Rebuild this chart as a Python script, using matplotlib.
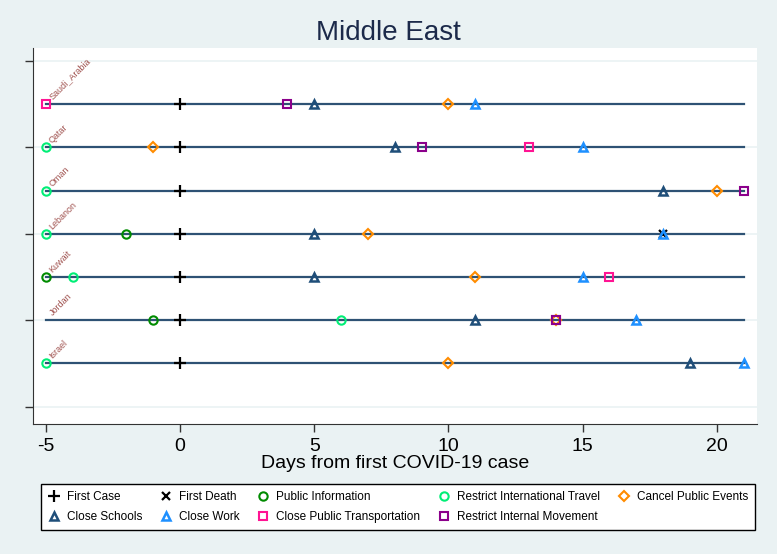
import numpy as np
import matplotlib.pyplot as plt
import matplotlib as mpl

mpl.rcParams['font.family'] = ['Liberation Sans Narrow', 'Liberation Sans', 'DejaVu Sans']

# rows from bottom to top
countries = ['Israel', 'Jordan', 'Kuwait', 'Lebanon', 'Oman', 'Qatar', 'Saudi_Arabia']
line_start = [-5, -5, -5, -5, -5, -5, -5]
line_end = [21, 21, 21, 21, 21, 21, 21]

first_case = [0, 0, 0, 0, 0, 0, 0]
first_death = [None, None, None, 18, None, None, None]
public_info = [None, -1, -5, -2, None, None, None]
intl_travel = [-5, 6, -4, -5, -5, -5, None]
cancel_events = [10, 14, 11, 7, 20, -1, 10]
close_schools = [19, 11, 5, 5, 18, 8, 5]
close_work = [21, 17, 15, 18, None, 15, 11]
close_transport = [None, 14, 16, None, None, 13, -5]
internal_movement = [None, 14, None, None, 21, 9, 4]

xticks = [-5, 0, 5, 10, 15, 20]
yticks = [0, 2, 4, 6, 8]

bg = '#eaf2f3'
fig = plt.figure(figsize=(7.77, 5.54), dpi=100, facecolor=bg)
W, H = 777, 554
ax = fig.add_axes([33 / W, 1 - 424 / H, (757 - 33) / W, (424 - 48) / H])
ax.set_facecolor('white')

for i in range(len(countries)):
    ax.plot([line_start[i], line_end[i]], [i + 1, i + 1], color='#2e5274', lw=1.6, zorder=2)
    ax.text(line_start[i] + 0.3, i + 1.06, countries[i], rotation=45, fontsize=6.5,
            color='#a0524f', ha='left', va='bottom', rotation_mode='anchor', zorder=5)

series = [
    ('First Case', first_case, dict(marker='+', color='black', ms=9, mew=1.6)),
    ('First Death', first_death, dict(marker='x', color='black', ms=6, mew=1.6)),
    ('Public Information', public_info, dict(marker='o', mfc='none', mec='#008b00', ms=6, mew=1.5)),
    ('Restrict International Travel', intl_travel, dict(marker='o', mfc='none', mec='#00ee76', ms=6, mew=1.5)),
    ('Cancel Public Events', cancel_events, dict(marker='D', mfc='none', mec='#ff8c00', ms=5, mew=1.5)),
    ('Close Schools', close_schools, dict(marker='^', mfc='none', mec='#1f4e79', ms=6, mew=1.8)),
    ('Close Work', close_work, dict(marker='^', mfc='none', mec='#1e90ff', ms=6, mew=1.8)),
    ('Close Public Transportation', close_transport, dict(marker='s', mfc='none', mec='#ff1493', ms=6, mew=1.5)),
    ('Restrict Internal Movement', internal_movement, dict(marker='s', mfc='none', mec='#8b008b', ms=6, mew=1.5)),
]

handles = []
for label, vals, style in series:
    xs = [v for v in vals if v is not None]
    ys = [i + 1 for i, v in enumerate(vals) if v is not None]
    h, = ax.plot(xs, ys, ls='none', label=label, zorder=4, **style)
    handles.append(h)

ax.set_xlim(-5.48, 21.5)
ax.set_ylim(-0.4, 8.3)
ax.set_xticks(xticks)
ax.set_xticklabels([str(t) for t in xticks], fontsize=14)
ax.set_yticks(yticks)
ax.set_yticklabels([])
ax.grid(axis='y', color=bg, lw=1.2, zorder=0)
ax.tick_params(axis='x', length=6, width=1, color='#333333', pad=4)
ax.tick_params(axis='y', length=6, width=1, color='#333333')
for s in ['top', 'right']:
    ax.spines[s].set_visible(False)
for s in ['left', 'bottom']:
    ax.spines[s].set_color('#333333')
ax.set_xlabel('Days from first COVID-19 case', fontsize=14, labelpad=0)
fig.text(0.5, 1 - 33 / H, 'Middle East', ha='center', va='center', fontsize=20, color='#1c2a4a')

# legend, row-major order
order = [0, 5, 1, 6, 2, 7, 3, 8, 4]
leg = fig.legend([handles[k] for k in order], [series[k][0] for k in order],
                 ncol=5, loc='center', bbox_to_anchor=(398 / W, 1 - 507 / H),
                 fontsize=8.5, frameon=True, fancybox=False, edgecolor='black',
                 facecolor='white', framealpha=1,
                 handlelength=1.0, handletextpad=0.6, columnspacing=1.5,
                 borderpad=0.6, labelspacing=0.7)
leg.get_frame().set_linewidth(1.0)

fig.savefig('out.png', dpi=100, facecolor=bg)
